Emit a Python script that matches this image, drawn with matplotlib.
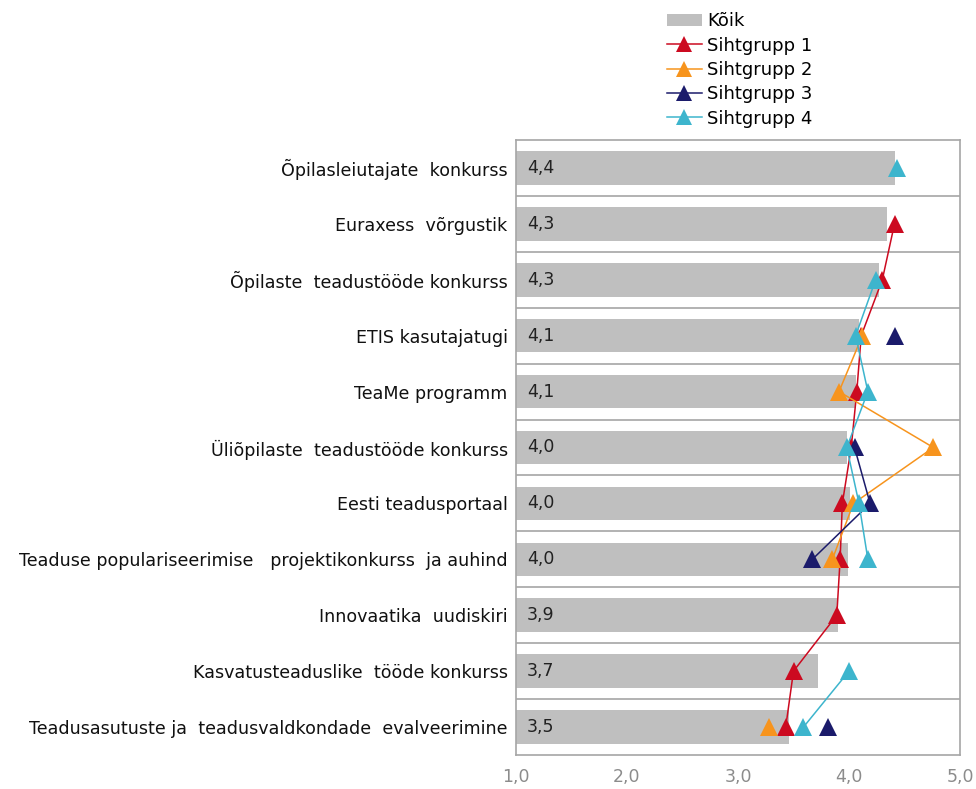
import numpy as np
import matplotlib
matplotlib.use("Agg")
import matplotlib.pyplot as plt
from matplotlib.lines import Line2D
from matplotlib.patches import Patch

categories = [
    "Õpilasleiutajate  konkurss",
    "Euraxess  võrgustik",
    "Õpilaste  teadustööde konkurss",
    "ETIS kasutajatugi",
    "TeaMe programm",
    "Üliõpilaste  teadustööde konkurss",
    "Eesti teadusportaal",
    "Teaduse populariseerimise   projektikonkurss  ja auhind",
    "Innovaatika  uudiskiri",
    "Kasvatusteaduslike  tööde konkurss",
    "Teadusasutuste ja  teadusvaldkondade  evalveerimine",
]
koik = [4.41, 4.34, 4.27, 4.09, 4.06, 3.98, 4.01, 3.99, 3.90, 3.72, 3.46]
nan = np.nan
group1 = [nan, 4.41, 4.30, 4.11, 4.07, 4.02, 3.94, 3.92, 3.89, 3.50, 3.43]
group2 = [nan, nan, nan, 4.12, 3.91, 4.76, 4.04, 3.85, nan, nan, 3.28]
group3 = [nan, nan, nan, 4.41, nan, 4.05, 4.19, 3.67, nan, nan, 3.81]
group4 = [4.43, nan, 4.24, 4.06, 4.17, 3.98, 4.09, 4.17, nan, 4.00, 3.59]
series_names = ["Sihtgrupp 1", "Sihtgrupp 2", "Sihtgrupp 3", "Sihtgrupp 4"]
series_vals = [group1, group2, group3, group4]
colors = ["#CC0A20", "#F7941D", "#1B1B6B", "#3DB5CD"]
xticks = [1.0, 2.0, 3.0, 4.0, 5.0]

fig = plt.figure(figsize=(9.76, 7.89), dpi=100)
ax = fig.add_axes([516/976, 1 - 755/789, (960-516)/976, (755-140)/789])

y = np.arange(len(categories))
ax.barh(y, np.array(koik) - 1.0, left=1.0, height=0.6, color="#BFBFBF", zorder=2)
for yi, v in zip(y, koik):
    ax.text(1.1, yi, f"{v:.1f}".replace(".", ","), va="center", ha="left",
            fontsize=12.5, color="#222222", zorder=5)

for name, vals, c in zip(series_names, series_vals, colors):
    ax.plot(vals, y, color=c, lw=1.1, marker="^", markersize=12.5,
            markeredgewidth=0, zorder=4)

ax.set_xlim(1.0, 5.0)
ax.set_ylim(len(categories) - 0.5, -0.5)
ax.set_yticks(y)
ax.set_yticklabels(categories, fontsize=12.6, color="#111111")
ax.set_xticks(xticks)
ax.set_xticklabels([f"{t:.1f}".replace(".", ",") for t in xticks],
                   fontsize=12.5, color="#8C8C8C")
ax.tick_params(axis="both", length=0)
ax.tick_params(axis="x", pad=9)
ax.tick_params(axis="y", pad=6)
for b in np.arange(0.5, len(categories) - 0.5, 1.0):
    ax.axhline(b, color="#A6A6A6", lw=1.2, zorder=1)
for s in ax.spines.values():
    s.set_color("#A6A6A6")
    s.set_linewidth(1.2)

handles = [Patch(facecolor="#BFBFBF", edgecolor="none", label="Kõik")]
for name, c in zip(series_names, colors):
    handles.append(Line2D([0], [0], color=c, lw=1.1, marker="^", markersize=11,
                          markeredgewidth=0, label=name))
fig.legend(handles=handles, loc="upper left", bbox_to_anchor=(660/976, 1 - 5/789),
           frameon=False, fontsize=13, handlelength=1.9, handletextpad=0.3,
           labelspacing=0.35, borderaxespad=0)

fig.savefig("out.png", dpi=100)
